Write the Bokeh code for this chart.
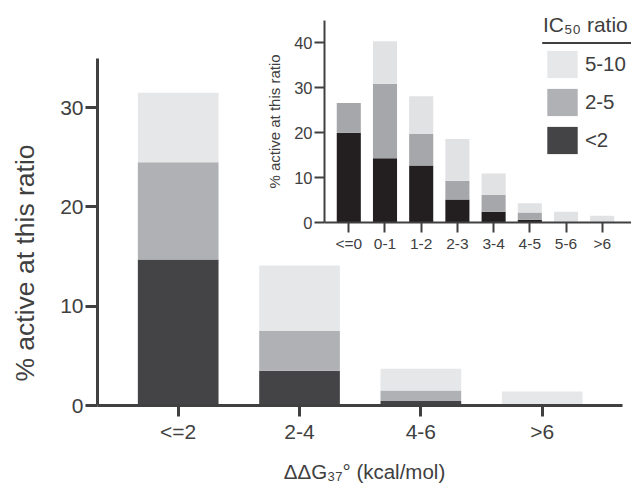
import math
from bokeh.plotting import figure
from bokeh.models import (ColumnDataSource, Range1d, FixedTicker, Legend, LegendItem,
                          Label, BoxAnnotation, Column)
from bokeh.embed import file_html
from bokeh.resources import INLINE

# ---------------- data ----------------
main_categories = ["<=2", "2-4", "4-6", ">6"]
main_below2 = [14.7, 3.5, 0.45, 0.0]
main_2to5 = [9.8, 4.0, 1.05, 0.0]
main_5to10 = [7.0, 6.6, 2.2, 1.4]

inset_categories = ["<=0", "0-1", "1-2", "2-3", "3-4", "4-5", "5-6", ">6"]
inset_below2 = [20.0, 14.3, 12.7, 5.1, 2.4, 0.6, 0.0, 0.0]
inset_2to5 = [6.6, 16.6, 7.0, 4.2, 3.7, 1.6, 0.0, 0.0]
inset_5to10 = [0.0, 9.5, 8.4, 9.3, 4.8, 2.1, 2.4, 1.5]

ratio_labels = ["<2", "2-5", "5-10"]
main_yticks = [0, 10, 20, 30]
inset_yticks = [0, 10, 20, 30, 40]

# ---------------- style ----------------
FONT = "Liberation Sans"
TXT = "#404040"
AX = "#404040"
main_colors = ["#444446", "#b0b1b4", "#e6e7e9"]
inset_colors = ["#231f20", "#a6a7aa", "#e1e2e4"]


def style_axes(fig, lw, tick_out, label_size, standoff):
    for ax in (fig.xaxis[0], fig.yaxis[0]):
        ax.axis_line_color = AX
        ax.axis_line_width = lw
        ax.major_tick_line_color = AX
        ax.major_tick_line_width = lw
        ax.major_tick_out = tick_out
        ax.major_tick_in = 0
        ax.minor_tick_line_color = None
        ax.major_label_text_font = FONT
        ax.major_label_text_font_size = label_size
        ax.major_label_text_color = TXT
        ax.major_label_standoff = standoff
        ax.axis_label_text_font = FONT
        ax.axis_label_text_color = TXT
        ax.axis_label_text_font_style = "normal"
    fig.grid.visible = False


# ---------------- main figure ----------------
main_x = list(range(len(main_categories)))
src_main = ColumnDataSource(dict(x=main_x, lt2=main_below2, mid=main_2to5, hi=main_5to10))

p = figure(x_range=Range1d(-0.665, 3.736), y_range=Range1d(0, 40.8),
           width=631, height=485, output_backend="svg", toolbar_location=None,
           min_border_left=97, min_border_right=0, min_border_top=0, min_border_bottom=77,
           outline_line_color=None, background_fill_color="white", border_fill_color="white")
rs = p.vbar_stack(["lt2", "mid", "hi"], x="x", width=0.665, color=main_colors,
                  line_color=None, source=src_main)
style_axes(p, 3, 11, "21px", 3)
p.xaxis.ticker = FixedTicker(ticks=main_x)
p.xaxis.major_label_overrides = {i: c for i, c in enumerate(main_categories)}
p.xaxis.bounds = (-0.665, 3.662)
p.yaxis.ticker = FixedTicker(ticks=main_yticks)
p.yaxis.bounds = (0, 35)
p.yaxis.major_tick_out = 12
p.yaxis.major_label_standoff = 2
p.xaxis.axis_label = "\u0394\u0394G\u2083\u2087\u00b0 (kcal/mol)"
p.xaxis.axis_label_text_font_size = "20.5px"
p.xaxis.axis_label_standoff = 14

legend = Legend(items=[LegendItem(label=ratio_labels[2], renderers=[rs[2]]),
                       LegendItem(label=ratio_labels[1], renderers=[rs[1]]),
                       LegendItem(label=ratio_labels[0], renderers=[rs[0]])],
                location=(445.9, 248.2), title="IC\u2085\u2080 ratio",
                title_text_font=FONT, title_text_font_size="21px", title_text_color=TXT,
                title_text_font_style="normal", title_standoff=10,
                label_text_font=FONT, label_text_font_size="20.5px", label_text_color=TXT,
                glyph_width=38, glyph_height=34, spacing=4, label_standoff=4,
                padding=0, margin=0, border_line_color=None, background_fill_alpha=0)
p.add_layout(legend)

underline_main = BoxAnnotation(left=3.0, right=3.736, bottom=36.43, top=36.63,
                               fill_color=AX, fill_alpha=1.0, line_color=None, level="overlay")
p.add_layout(underline_main)

# ---------------- inset figure ----------------
inset_x = list(range(len(inset_categories)))
src_inset = ColumnDataSource(dict(x=inset_x, lt2=inset_below2, mid=inset_2to5, hi=inset_5to10))

q = figure(x_range=Range1d(-0.671, 7.809), y_range=Range1d(0, 45),
           width=404, height=485, output_backend="svg", toolbar_location=None,
           min_border_left=97, min_border_right=0, min_border_top=20, min_border_bottom=263,
           outline_line_color=None, background_fill_color=None, border_fill_color=None)
q.vbar_stack(["lt2", "mid", "hi"], x="x", width=0.665, color=inset_colors,
             line_color=None, source=src_inset)
style_axes(q, 2, 10, "16.5px", 2)
q.xaxis.ticker = FixedTicker(ticks=inset_x)
q.xaxis.major_label_overrides = {i: c for i, c in enumerate(inset_categories)}
q.xaxis.major_label_text_font_size = "15.5px"
q.yaxis.ticker = FixedTicker(ticks=inset_yticks)
q.yaxis.axis_label = "% active at this ratio"
q.yaxis.axis_label_text_font_size = "15px"
q.yaxis.axis_label_standoff = 8
q.margin = (-485, 0, 0, 227)

# ---------------- y-axis title of the main chart ----------------
r = figure(x_range=Range1d(0, 97), y_range=Range1d(0, 485),
           width=194, height=485, output_backend="svg", toolbar_location=None,
           min_border_left=97, min_border_right=0, min_border_top=0, min_border_bottom=0,
           outline_line_color=None, background_fill_color=None, border_fill_color=None)
r.axis.visible = False
r.grid.visible = False
r.add_layout(Label(x=24, y=222.5, text="% active at this ratio", angle=math.pi / 2,
                   text_align="center", text_baseline="middle", text_font=FONT,
                   text_font_size="26.5px", text_color=TXT))
r.margin = (-485, 0, 0, -97)

layout = Column(children=[p, q, r], width=631, height=485)

open("out.html", "w").write(file_html(layout, INLINE))
